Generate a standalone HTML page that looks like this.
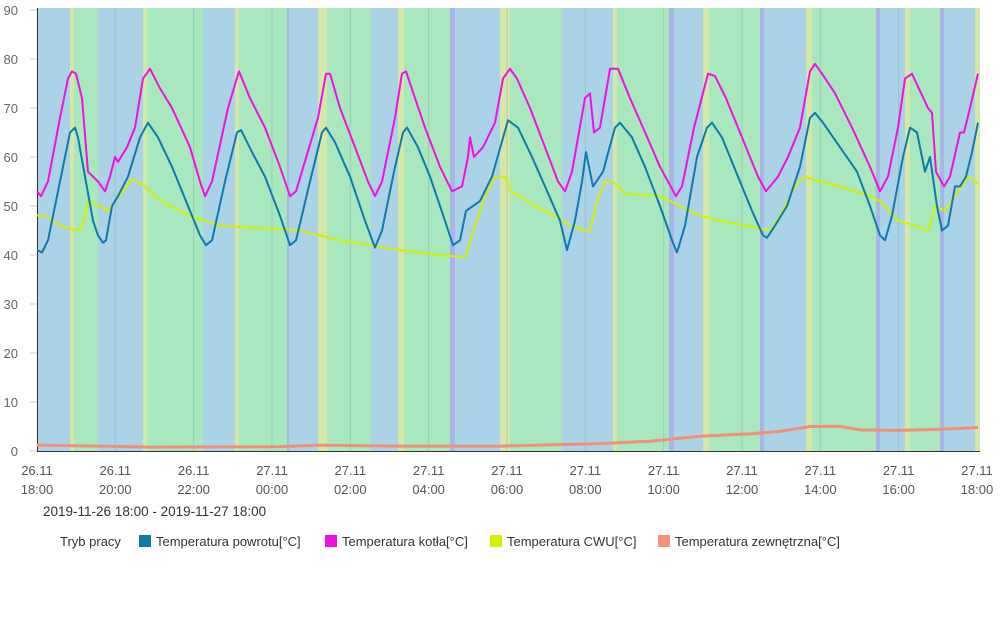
<!DOCTYPE html>
<html><head><meta charset="utf-8"><style>
body{margin:0;background:#fff;width:1000px;height:626px;overflow:hidden;font-family:"Liberation Sans",sans-serif}
svg text{font-family:"Liberation Sans",sans-serif}
</style></head><body>
<svg id="s" width="1000" height="626" xmlns="http://www.w3.org/2000/svg"></svg>
<script>
const s=document.getElementById('s');let h='';
const Y=v=>451-4.9*v;
const bands=[[37,70,'#abd3e8'],[70,74,'#d4e8a8'],[74,98,'#a9e8be'],[98,143,'#abd3e8'],[143,147,'#d4e8a8'],[147,203,'#a9e8be'],[203,235,'#abd3e8'],[235,239,'#d4e8a8'],[239,287,'#a9e8be'],[287,289,'#a9b5e6'],[289,318,'#abd3e8'],[318,327,'#d4e8a8'],[327,371,'#a9e8be'],[371,398,'#abd3e8'],[398,404,'#d4e8a8'],[404,450,'#a9e8be'],[450,455,'#a9b5e6'],[455,500,'#abd3e8'],[500,510,'#d4e8a8'],[510,562,'#a9e8be'],[562,613,'#abd3e8'],[613,617,'#d4e8a8'],[617,669,'#a9e8be'],[669,674,'#a9b5e6'],[674,703,'#abd3e8'],[703,709,'#d4e8a8'],[709,760,'#a9e8be'],[760,764,'#a9b5e6'],[764,806,'#abd3e8'],[806,812,'#d4e8a8'],[812,876,'#a9e8be'],[876,880,'#a9b5e6'],[880,905,'#abd3e8'],[905,910,'#d4e8a8'],[910,940,'#a9e8be'],[940,944,'#a9b5e6'],[944,975,'#abd3e8'],[975,980,'#d4e8a8']];
bands.forEach(b=>h+=`<rect x="${b[0]}" y="8" width="${b[1]-b[0]}" height="443" fill="${b[2]}"/>`);
for(let i=0;i<=12;i++){const x=37+i*78.33;if(i>0&&i<12)h+=`<line x1="${x}" y1="8" x2="${x}" y2="451" stroke="#8aa" stroke-opacity=".45" stroke-width="1"/>`;
const d=i<3?'26.11':'27.11';const t=String((18+2*i)%24).padStart(2,'0')+':00';
h+=`<text x="${x}" y="475" font-size="13" fill="#555" text-anchor="middle">${d}</text><text x="${x}" y="494" font-size="13" fill="#555" text-anchor="middle">${t}</text>`;}
for(let v=0;v<=90;v+=10){h+=`<line x1="30" y1="${Y(v)}" x2="37" y2="${Y(v)}" stroke="#ccc"/><text x="18" y="${Y(v)+5}" font-size="13" fill="#666" text-anchor="end">${v}</text>`;}
h+=`<line x1="37.5" y1="8" x2="37.5" y2="451" stroke="#333"/><line x1="37" y1="451.5" x2="980" y2="451.5" stroke="#333"/>`;
function line(a,c,w){let p=[];for(let i=0;i<a.length;i+=2)p.push(a[i]+','+Y(a[i+1]).toFixed(1));h+=`<polyline points="${p.join(' ')}" fill="none" stroke="${c}" stroke-width="${w}" stroke-linejoin="round"/>`;}
line([37,1.2,100,1,150,0.8,280,0.9,320,1.2,400,1,500,1,600,1.5,650,2,700,3,750,3.5,780,4,810,5,840,5,860,4.3,900,4.2,950,4.5,978,4.8],'#f0907a',3);
line([37,48,45,48,60,46,75,45,82,45.5,88,51,100,50,108,49,115,51,123,53,132,55.5,145,54,155,52,170,50,190,48,220,46,260,45.5,300,45,320,44,340,43,370,42,400,41,440,40,465,39.5,475,46,485,52,495,56,505,56,510,53,520,52,535,50,555,48,570,46,585,45,590,45,597,51,605,55,612,55,618,54,625,52.5,660,52,680,50,700,48,720,47,745,46,770,45,780,48,790,52,798,55,805,56,820,55,840,54,870,52,880,51,898,47,915,46,928,45,935,50,945,49,958,53,968,56,978,54.5],'#d4f000',2);
line([37,41,42,40.5,48,43,60,55,70,65,75,66,78,64,85,56,93,47,98,44,103,42.5,106,43,112,50,118,52,128,56,140,64,148,67,158,64,172,58,188,50,200,44,206,42,212,43,225,55,237,65,241,65.5,252,61,265,56,280,48,290,42,296,43,310,55,322,65,326,66,335,63,350,56,365,47,375,41.5,382,45,394,57,403,65,407,66,418,62,430,56,445,47,453,42,460,43,466,49,473,50,480,51,492,56,508,67.5,518,66,532,60,545,54,560,47,567,41,575,47,582,55,586,61,593,54,603,57,615,66,620,67,632,64,645,58,660,50,672,43,677,40.5,685,46,697,60,707,66,712,67,722,64,738,56,752,49,763,44,767,43.5,775,46,787,50,800,58,810,68,815,69,823,67,840,62,857,57,870,50,880,44,885,43,892,48,903,60,910,66,917,65,925,57,930,60,937,50,942,45,948,46,955,54,960,54,966,56,972,61,978,67],'#0f7aab',2);
line([37,53,41,52,48,55,60,68,68,76,72,77.5,76,77,82,72,88,57,98,55,105,53,110,56,115,60,118,59,127,62,135,66,143,76,150,78,160,74,172,70,190,62,200,55,205,52,212,55,228,70,239,77.5,250,72,265,66,280,58,290,52,296,53,318,68,326,77,330,77,340,70,355,62,368,55,375,52,382,55,395,68,402,77,406,77.5,415,72,425,66,440,58,452,53,462,54,468,60,470,64,474,60,483,62,495,67,503,76,510,78,517,76,530,70,545,62,558,55,565,53,572,57,585,72,590,73,594,65,600,66,610,78,618,78,630,72,643,66,660,58,676,52,682,54,694,66,708,77,715,76.5,726,72,742,64,758,56,766,53,778,56,788,60,800,66,810,77.5,815,79,822,77,835,73,852,66,870,58,880,53,888,56,898,66,905,76,912,77,928,70,932,69,936,57,944,54,950,56,960,65,964,65,970,70,978,77],'#f010e0',2);
h+=`<text x="43" y="516" font-size="13.5" fill="#333">2019-11-26 18:00 - 2019-11-27 18:00</text>`;
h+=`<text x="60" y="546" font-size="13" fill="#333">Tryb pracy</text>`;
[[139,'#0f7aab','Temperatura powrotu[°C]'],[325,'#f010e0','Temperatura kotła[°C]'],[490,'#d4f000','Temperatura CWU[°C]'],[658,'#f8907a','Temperatura zewnętrzna[°C]']].forEach(l=>{h+=`<rect x="${l[0]}" y="535" width="12" height="12" fill="${l[1]}"/><text x="${l[0]+17}" y="546" font-size="13" fill="#333">${l[2]}</text>`;});
s.innerHTML=h;
</script>
</body></html>
